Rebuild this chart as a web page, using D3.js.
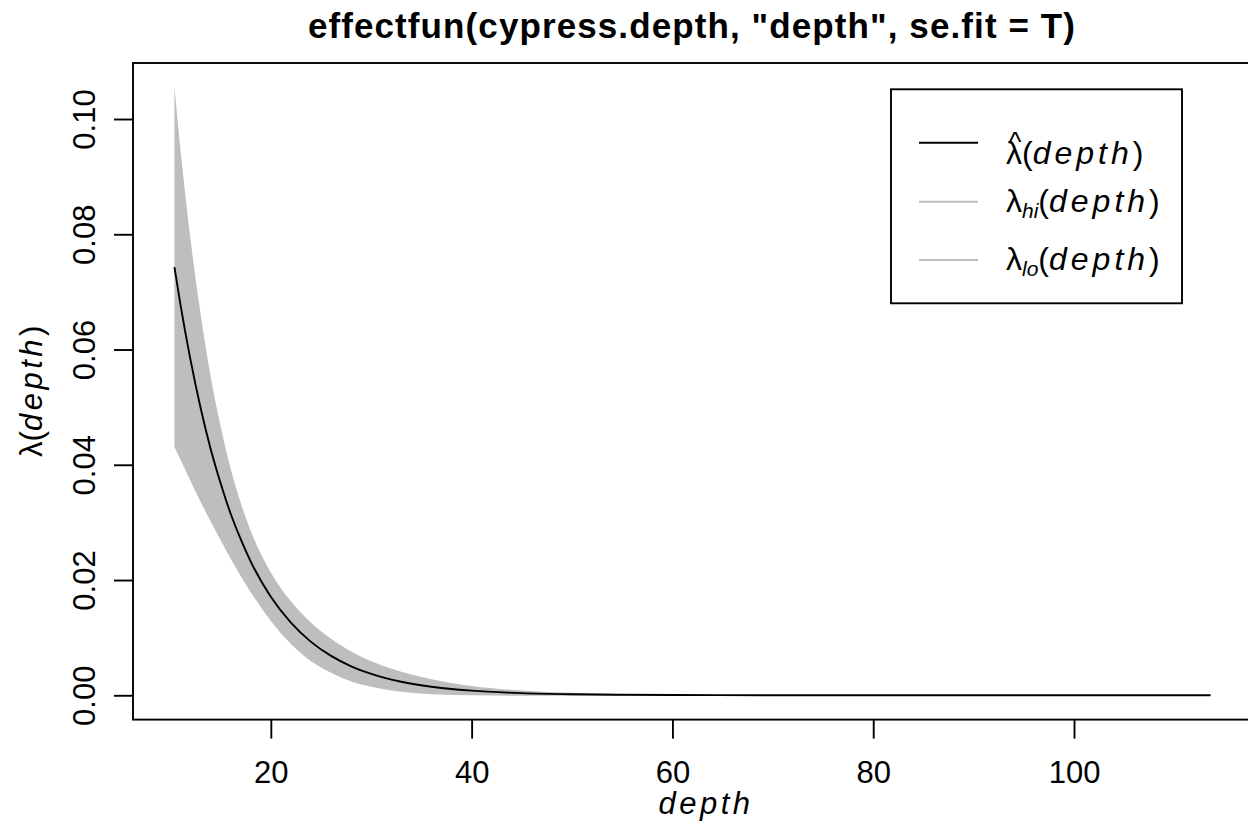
<!DOCTYPE html>
<html>
<head>
<meta charset="utf-8">
<script src="https://cdn.jsdelivr.net/npm/d3@7"></script>
<style>
  body { margin: 0; background: #fff; }
  text { font-family: "Liberation Sans", Arial, sans-serif; fill: #000; }
</style>
</head>
<body>
<svg width="1248" height="826"></svg>
<script>
// values
var depthVals = [10.4, 11, 12, 13, 14, 15, 16, 17, 18, 20, 22, 24, 26, 28, 30, 33, 36, 40, 45, 50, 55, 60, 70, 80, 90, 100, 113.6];
var fitVals = [0.0743, 0.0678, 0.0582, 0.0499, 0.0428, 0.0368, 0.0315, 0.0271, 0.0232, 0.0171, 0.0126, 0.00927, 0.00683, 0.00503, 0.00370, 0.00234, 0.00148, 0.00080, 0.00037, 0.00017, 0.00008, 0.00004, 0.00001, 0, 0, 0, 0];
var hiVals = [0.1055, 0.0947, 0.0792, 0.0662, 0.0554, 0.0467, 0.0393, 0.0334, 0.0285, 0.0213, 0.0163, 0.0126, 0.0098, 0.0076, 0.0059, 0.0041, 0.0028, 0.0016, 0.00084, 0.00042, 0.00022, 0.00011, 0.00003, 0, 0, 0, 0];
var loVals = [0.0431, 0.0409, 0.0372, 0.0336, 0.0302, 0.0269, 0.0237, 0.0207, 0.0179, 0.0129, 0.0089, 0.0059, 0.0039, 0.0024, 0.0015, 0.0006, 0.0002, 0, -0.0001, -0.0001, -0.00006, -0.00004, -0.00001, 0, 0, 0, 0];

var xTicks = [20, 40, 60, 80, 100];
var yTicks = [0, 0.02, 0.04, 0.06, 0.08, 0.10];
var titleText = 'effectfun(cypress.depth, "depth", se.fit = T)';

var data = depthVals.map(function (d, i) {
    return {depth: d, fit: fitVals[i], hi: hiVals[i], lo: loVals[i]};
});

var plotLeft = 133, plotRight = 1252, plotTop = 63, plotBottom = 719.6;
var lw = 1.9;

// R style 4% padding on both ranges
var xr = d3.extent(depthVals), xp = (xr[1] - xr[0]) * 0.04;
var yMax = d3.max(hiVals), yp = yMax * 0.04;
var x = d3.scaleLinear().domain([xr[0] - xp, xr[1] + xp]).range([plotLeft, plotRight]);
var y = d3.scaleLinear().domain([0 - yp, yMax + yp]).range([plotBottom, plotTop]);

var svg = d3.select("svg");

var band = d3.area().x(function (d) { return x(d.depth); })
    .y0(function (d) { return y(d.lo); })
    .y1(function (d) { return y(d.hi); })
    .curve(d3.curveMonotoneX);
var line = d3.line().x(function (d) { return x(d.depth); })
    .y(function (d) { return y(d.fit); })
    .curve(d3.curveMonotoneX);

svg.append("path").datum(data).attr("d", band).style("fill", "#bebebe").style("stroke", "none");
svg.append("path").datum(data).attr("d", line).style("fill", "none").style("stroke", "#000").style("stroke-width", lw);

// box
svg.append("rect").attr("x", plotLeft).attr("y", plotTop).attr("width", plotRight - plotLeft).attr("height", plotBottom - plotTop)
    .style("fill", "none").style("stroke", "#000").style("stroke-width", lw);

// x axis
var xAxis = d3.axisBottom(x).tickValues(xTicks).tickSize(19).tickFormat(d3.format("d"));
var gx = svg.append("g").attr("transform", "translate(0," + plotBottom + ")").call(xAxis);
gx.select(".domain").remove();
gx.selectAll(".tick line").style("stroke", "#000").style("stroke-width", lw);
gx.selectAll(".tick text").attr("y", 63).attr("dy", 0).style("font-size", "31px").style("font-family", '"Liberation Sans", Arial, sans-serif');

// y axis, labels turned like R's las = 0
var yAxis = d3.axisLeft(y).tickValues(yTicks).tickSize(19).tickFormat(d3.format(".2f"));
var gy = svg.append("g").attr("transform", "translate(" + plotLeft + ",0)").call(yAxis);
gy.select(".domain").remove();
gy.selectAll(".tick line").style("stroke", "#000").style("stroke-width", lw);
gy.selectAll(".tick text").attr("x", null).attr("dy", 0).attr("text-anchor", "middle")
    .attr("transform", "translate(-38,0) rotate(-90)")
    .style("font-size", "31px").style("font-family", '"Liberation Sans", Arial, sans-serif');

// title
svg.append("text").attr("x", 692).attr("y", 38).attr("text-anchor", "middle")
    .style("font-size", "35px").style("font-weight", "bold").style("letter-spacing", "1.1px").text(titleText);

// axis titles
svg.append("text").attr("x", 706).attr("y", 814).attr("text-anchor", "middle")
    .style("font-size", "31px").style("font-style", "italic").style("letter-spacing", "3.5px").text("depth");

var yl = svg.append("text").attr("transform", "translate(42," + ((plotTop + plotBottom) / 2) + ") rotate(-90)")
    .attr("text-anchor", "middle").style("font-size", "31px");
yl.append("tspan").text("λ(");
yl.append("tspan").style("font-style", "italic").style("letter-spacing", "3.5px").text("depth");
yl.append("tspan").text(")");

// legend
var legRows = [
    {color: "#000", sub: null, hat: true},
    {color: "#bebebe", sub: "hi", hat: false},
    {color: "#bebebe", sub: "lo", hat: false}
];
var legY = [142.7, 201.7, 260];
var lg = svg.append("g");
lg.append("rect").attr("x", 891).attr("y", 89.3).attr("width", 291).attr("height", 214)
    .style("fill", "#fff").style("stroke", "#000").style("stroke-width", lw);
legRows.forEach(function (r, i) {
    var cy = legY[i];
    lg.append("line").attr("x1", 919).attr("x2", 978).attr("y1", cy).attr("y2", cy)
        .style("stroke", r.color).style("stroke-width", lw);
    var base = cy + (r.hat ? 21 : 10);
    var t = lg.append("text").attr("x", 1006).attr("y", base).style("font-size", "32px");
    t.append("tspan").text("λ");
    if (r.sub) {
        t.append("tspan").attr("dy", 6).style("font-size", "21px").style("font-style", "italic").text(r.sub);
        t.append("tspan").attr("dy", -6).text("(");
    } else {
        t.append("tspan").text("(");
    }
    t.append("tspan").style("font-style", "italic").style("letter-spacing", "4px").text("depth");
    t.append("tspan").text(")");
    if (r.hat) {
        lg.append("text").attr("x", 1015).attr("y", base - 13).attr("text-anchor", "middle")
            .style("font-size", "27px").text("^");
    }
});
</script>
</body>
</html>
